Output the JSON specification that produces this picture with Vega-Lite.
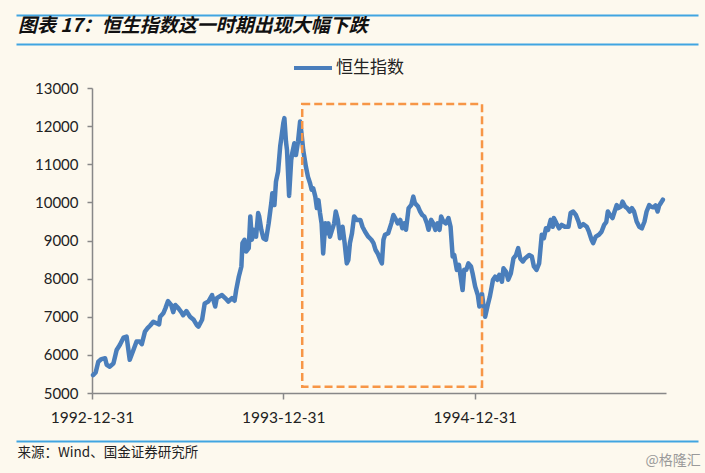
{
  "$schema": "https://vega.github.io/schema/vega-lite/v6.json",
  "width": 682,
  "height": 426,
  "autosize": "none",
  "padding": {"left": 16, "top": 15, "right": 7, "bottom": 32},
  "background": "#FDF9EE",
  "config": {"view": {"stroke": null}, "font": "Lato"},
  "title": {
    "text": "图表 17：恒生指数这一时期出现大幅下跌",
    "anchor": "start",
    "frame": "group",
    "font": "Noto Sans CJK SC",
    "fontSize": 19,
    "fontWeight": "bold",
    "fontStyle": "italic",
    "color": "#111111",
    "offset": 0,
    "dx": 2,
    "dy": 21
  },
  "datasets": {
    "hsi": [
      {"date": "1993-01-02", "hsi": 5470}, {"date": "1993-01-07", "hsi": 5540}, {"date": "1993-01-12", "hsi": 5820},
      {"date": "1993-01-18", "hsi": 5890}, {"date": "1993-01-25", "hsi": 5910}, {"date": "1993-01-28", "hsi": 5740},
      {"date": "1993-02-03", "hsi": 5690}, {"date": "1993-02-10", "hsi": 5780}, {"date": "1993-02-16", "hsi": 6130},
      {"date": "1993-02-22", "hsi": 6260}, {"date": "1993-03-01", "hsi": 6450}, {"date": "1993-03-07", "hsi": 6480},
      {"date": "1993-03-13", "hsi": 5870}, {"date": "1993-03-20", "hsi": 6130}, {"date": "1993-03-26", "hsi": 6350},
      {"date": "1993-04-01", "hsi": 6350}, {"date": "1993-04-05", "hsi": 6280}, {"date": "1993-04-11", "hsi": 6610},
      {"date": "1993-04-16", "hsi": 6700}, {"date": "1993-04-21", "hsi": 6770}, {"date": "1993-04-27", "hsi": 6870},
      {"date": "1993-05-03", "hsi": 6830}, {"date": "1993-05-08", "hsi": 6800}, {"date": "1993-05-10", "hsi": 7000},
      {"date": "1993-05-16", "hsi": 7090}, {"date": "1993-05-20", "hsi": 7220}, {"date": "1993-05-25", "hsi": 7410},
      {"date": "1993-05-31", "hsi": 7310}, {"date": "1993-06-04", "hsi": 7120}, {"date": "1993-06-08", "hsi": 7310},
      {"date": "1993-06-14", "hsi": 7220}, {"date": "1993-06-19", "hsi": 7130}, {"date": "1993-06-23", "hsi": 7040},
      {"date": "1993-06-29", "hsi": 7150}, {"date": "1993-07-06", "hsi": 7000}, {"date": "1993-07-13", "hsi": 6920},
      {"date": "1993-07-19", "hsi": 6780}, {"date": "1993-07-22", "hsi": 6740}, {"date": "1993-07-29", "hsi": 6920},
      {"date": "1993-08-03", "hsi": 7350}, {"date": "1993-08-10", "hsi": 7400}, {"date": "1993-08-17", "hsi": 7570},
      {"date": "1993-08-23", "hsi": 7270}, {"date": "1993-08-26", "hsi": 7490}, {"date": "1993-09-05", "hsi": 7570},
      {"date": "1993-09-11", "hsi": 7490}, {"date": "1993-09-17", "hsi": 7400}, {"date": "1993-09-24", "hsi": 7490},
      {"date": "1993-09-29", "hsi": 7420}, {"date": "1993-10-02", "hsi": 7700}, {"date": "1993-10-07", "hsi": 8050},
      {"date": "1993-10-12", "hsi": 8320}, {"date": "1993-10-14", "hsi": 8930}, {"date": "1993-10-18", "hsi": 9020},
      {"date": "1993-10-21", "hsi": 8710}, {"date": "1993-10-26", "hsi": 8800}, {"date": "1993-10-29", "hsi": 9630},
      {"date": "1993-11-01", "hsi": 9020}, {"date": "1993-11-04", "hsi": 9280}, {"date": "1993-11-09", "hsi": 9100},
      {"date": "1993-11-13", "hsi": 9720}, {"date": "1993-11-15", "hsi": 9630}, {"date": "1993-11-19", "hsi": 9280},
      {"date": "1993-11-23", "hsi": 9060}, {"date": "1993-11-28", "hsi": 9020}, {"date": "1993-12-03", "hsi": 9450},
      {"date": "1993-12-08", "hsi": 9980}, {"date": "1993-12-10", "hsi": 10240}, {"date": "1993-12-14", "hsi": 9930},
      {"date": "1993-12-17", "hsi": 10550}, {"date": "1993-12-21", "hsi": 10810}, {"date": "1993-12-25", "hsi": 11470},
      {"date": "1993-12-28", "hsi": 11770}, {"date": "1993-12-31", "hsi": 12080}, {"date": "1994-01-02", "hsi": 12210},
      {"date": "1994-01-05", "hsi": 11600}, {"date": "1994-01-07", "hsi": 11370}, {"date": "1994-01-11", "hsi": 10170},
      {"date": "1994-01-15", "hsi": 11110}, {"date": "1994-01-17", "hsi": 11290}, {"date": "1994-01-21", "hsi": 11550},
      {"date": "1994-01-24", "hsi": 11240}, {"date": "1994-01-28", "hsi": 11590}, {"date": "1994-02-01", "hsi": 12120},
      {"date": "1994-02-04", "hsi": 11770}, {"date": "1994-02-07", "hsi": 11370}, {"date": "1994-02-12", "hsi": 10940},
      {"date": "1994-02-16", "hsi": 10670}, {"date": "1994-02-20", "hsi": 10500}, {"date": "1994-02-23", "hsi": 10330},
      {"date": "1994-02-26", "hsi": 10370}, {"date": "1994-03-02", "hsi": 10150}, {"date": "1994-03-05", "hsi": 9850},
      {"date": "1994-03-08", "hsi": 10060}, {"date": "1994-03-11", "hsi": 9720}, {"date": "1994-03-14", "hsi": 9450},
      {"date": "1994-03-17", "hsi": 8660}, {"date": "1994-03-21", "hsi": 9450}, {"date": "1994-03-24", "hsi": 9190},
      {"date": "1994-03-27", "hsi": 9450}, {"date": "1994-03-30", "hsi": 9100}, {"date": "1994-04-03", "hsi": 9280},
      {"date": "1994-04-07", "hsi": 9450}, {"date": "1994-04-10", "hsi": 9760}, {"date": "1994-04-14", "hsi": 9540},
      {"date": "1994-04-18", "hsi": 9060}, {"date": "1994-04-23", "hsi": 9360}, {"date": "1994-04-27", "hsi": 8930},
      {"date": "1994-05-01", "hsi": 8400}, {"date": "1994-05-04", "hsi": 8490}, {"date": "1994-05-07", "hsi": 8930},
      {"date": "1994-05-11", "hsi": 9190}, {"date": "1994-05-15", "hsi": 9630}, {"date": "1994-05-20", "hsi": 9540},
      {"date": "1994-05-27", "hsi": 9540}, {"date": "1994-05-31", "hsi": 9360}, {"date": "1994-06-05", "hsi": 9230},
      {"date": "1994-06-11", "hsi": 9100}, {"date": "1994-06-17", "hsi": 9020}, {"date": "1994-06-21", "hsi": 8930},
      {"date": "1994-06-25", "hsi": 8750}, {"date": "1994-06-29", "hsi": 8660}, {"date": "1994-07-04", "hsi": 8490},
      {"date": "1994-07-07", "hsi": 8400}, {"date": "1994-07-10", "hsi": 9020}, {"date": "1994-07-13", "hsi": 9150},
      {"date": "1994-07-19", "hsi": 9190}, {"date": "1994-07-25", "hsi": 9450}, {"date": "1994-07-29", "hsi": 9670},
      {"date": "1994-08-03", "hsi": 9540}, {"date": "1994-08-06", "hsi": 9450}, {"date": "1994-08-11", "hsi": 9540},
      {"date": "1994-08-15", "hsi": 9320}, {"date": "1994-08-19", "hsi": 9450}, {"date": "1994-08-22", "hsi": 9280},
      {"date": "1994-08-27", "hsi": 9850}, {"date": "1994-09-01", "hsi": 9930}, {"date": "1994-09-05", "hsi": 10150},
      {"date": "1994-09-08", "hsi": 9980}, {"date": "1994-09-14", "hsi": 9890}, {"date": "1994-09-18", "hsi": 9760},
      {"date": "1994-09-22", "hsi": 9670}, {"date": "1994-09-26", "hsi": 9630}, {"date": "1994-10-01", "hsi": 9450},
      {"date": "1994-10-04", "hsi": 9280}, {"date": "1994-10-09", "hsi": 9540}, {"date": "1994-10-13", "hsi": 9450},
      {"date": "1994-10-17", "hsi": 9280}, {"date": "1994-10-21", "hsi": 9450}, {"date": "1994-10-25", "hsi": 9280},
      {"date": "1994-10-28", "hsi": 9630}, {"date": "1994-11-01", "hsi": 9500}, {"date": "1994-11-06", "hsi": 9450},
      {"date": "1994-11-11", "hsi": 9590}, {"date": "1994-11-15", "hsi": 9360}, {"date": "1994-11-19", "hsi": 8580},
      {"date": "1994-11-22", "hsi": 8620}, {"date": "1994-11-27", "hsi": 8230}, {"date": "1994-12-01", "hsi": 8360},
      {"date": "1994-12-05", "hsi": 7970}, {"date": "1994-12-08", "hsi": 7700}, {"date": "1994-12-11", "hsi": 8230},
      {"date": "1994-12-15", "hsi": 8230}, {"date": "1994-12-19", "hsi": 8400}, {"date": "1994-12-24", "hsi": 8320},
      {"date": "1994-12-27", "hsi": 8140}, {"date": "1995-01-01", "hsi": 7790}, {"date": "1995-01-06", "hsi": 7570},
      {"date": "1995-01-09", "hsi": 7270}, {"date": "1995-01-14", "hsi": 7600}, {"date": "1995-01-17", "hsi": 7270},
      {"date": "1995-01-20", "hsi": 7000}, {"date": "1995-01-25", "hsi": 7310}, {"date": "1995-01-29", "hsi": 7530},
      {"date": "1995-02-04", "hsi": 7970}, {"date": "1995-02-08", "hsi": 8050}, {"date": "1995-02-12", "hsi": 7970},
      {"date": "1995-02-16", "hsi": 8100}, {"date": "1995-02-21", "hsi": 7920}, {"date": "1995-02-24", "hsi": 8270},
      {"date": "1995-03-01", "hsi": 8180}, {"date": "1995-03-05", "hsi": 7970}, {"date": "1995-03-10", "hsi": 8140},
      {"date": "1995-03-15", "hsi": 8530}, {"date": "1995-03-20", "hsi": 8620}, {"date": "1995-03-24", "hsi": 8800},
      {"date": "1995-03-28", "hsi": 8530}, {"date": "1995-04-02", "hsi": 8450}, {"date": "1995-04-06", "hsi": 8530},
      {"date": "1995-04-14", "hsi": 8620}, {"date": "1995-04-19", "hsi": 8580}, {"date": "1995-04-23", "hsi": 8320},
      {"date": "1995-04-28", "hsi": 8230}, {"date": "1995-05-03", "hsi": 8400}, {"date": "1995-05-08", "hsi": 9150},
      {"date": "1995-05-12", "hsi": 9060}, {"date": "1995-05-16", "hsi": 9320}, {"date": "1995-05-20", "hsi": 9280},
      {"date": "1995-05-25", "hsi": 9540}, {"date": "1995-05-29", "hsi": 9360}, {"date": "1995-05-31", "hsi": 9590},
      {"date": "1995-06-05", "hsi": 9450}, {"date": "1995-06-10", "hsi": 9320}, {"date": "1995-06-15", "hsi": 9410},
      {"date": "1995-06-21", "hsi": 9360}, {"date": "1995-06-28", "hsi": 9360}, {"date": "1995-07-02", "hsi": 9720},
      {"date": "1995-07-07", "hsi": 9760}, {"date": "1995-07-12", "hsi": 9670}, {"date": "1995-07-17", "hsi": 9500},
      {"date": "1995-07-20", "hsi": 9360}, {"date": "1995-07-26", "hsi": 9430}, {"date": "1995-08-02", "hsi": 9360},
      {"date": "1995-08-06", "hsi": 9230}, {"date": "1995-08-11", "hsi": 9020}, {"date": "1995-08-14", "hsi": 8930},
      {"date": "1995-08-19", "hsi": 9100}, {"date": "1995-08-25", "hsi": 9150}, {"date": "1995-08-30", "hsi": 9230},
      {"date": "1995-09-04", "hsi": 9410}, {"date": "1995-09-08", "hsi": 9480}, {"date": "1995-09-11", "hsi": 9760},
      {"date": "1995-09-15", "hsi": 9670}, {"date": "1995-09-20", "hsi": 9590}, {"date": "1995-09-23", "hsi": 9720},
      {"date": "1995-09-28", "hsi": 9930}, {"date": "1995-10-01", "hsi": 9850}, {"date": "1995-10-06", "hsi": 9890},
      {"date": "1995-10-09", "hsi": 10020}, {"date": "1995-10-14", "hsi": 9890}, {"date": "1995-10-18", "hsi": 9850},
      {"date": "1995-10-23", "hsi": 9760}, {"date": "1995-10-27", "hsi": 9850}, {"date": "1995-10-31", "hsi": 9760},
      {"date": "1995-11-05", "hsi": 9500}, {"date": "1995-11-10", "hsi": 9360}, {"date": "1995-11-15", "hsi": 9320},
      {"date": "1995-11-20", "hsi": 9500}, {"date": "1995-11-24", "hsi": 9760}, {"date": "1995-11-29", "hsi": 9930},
      {"date": "1995-12-02", "hsi": 9890}, {"date": "1995-12-07", "hsi": 9870}, {"date": "1995-12-11", "hsi": 9920},
      {"date": "1995-12-15", "hsi": 9760}, {"date": "1995-12-18", "hsi": 9920}, {"date": "1995-12-21", "hsi": 9980},
      {"date": "1995-12-25", "hsi": 10070}
    ],
    "highlight": [
      {"start": "1994-02-05", "end": "1995-01-14", "high": 12580, "low": 5165}
    ]
  },
  "layer": [
    {
      "data": {"name": "hsi"},
      "mark": {"type": "line", "strokeWidth": 4.5, "strokeJoin": "round", "strokeCap": "round"},
      "encoding": {
        "x": {
          "field": "date",
          "type": "temporal",
          "scale": {
            "type": "utc",
            "domain": [{"year": 1992, "month": 12, "date": 31, "utc": true}, {"year": 1995, "month": 12, "date": 31, "utc": true}],
            "range": [76, 650]
          },
          "axis": {
            "orient": "bottom",
            "offset": -48,
            "values": [
              {"year": 1992, "month": 12, "date": 31, "utc": true},
              {"year": 1993, "month": 12, "date": 31, "utc": true},
              {"year": 1994, "month": 12, "date": 31, "utc": true}
            ],
            "format": "%Y-%m-%d",
            "labelFlush": false,
            "labelOverlap": false,
            "grid": false,
            "domainColor": "#888888",
            "domainWidth": 1.5,
            "tickColor": "#888888",
            "tickWidth": 1.5,
            "tickSize": 6,
            "labelFont": "Lato",
            "labelFontSize": 15.5,
            "labelColor": "#222222",
            "labelPadding": 11,
            "title": "来源：Wind、国金证券研究所",
            "titleX": 1,
            "titleY": 59,
            "titleAlign": "left",
            "titleBaseline": "middle",
            "titleFont": "Noto Sans CJK SC",
            "titleFontSize": 13.5,
            "titleFontWeight": "normal",
            "titleColor": "#222222"
          }
        },
        "y": {
          "field": "hsi",
          "type": "quantitative",
          "scale": {"domain": [3741.3, 14914.7], "nice": false, "zero": false},
          "axis": {
            "orient": "left",
            "offset": -76,
            "values": [5000, 6000, 7000, 8000, 9000, 10000, 11000, 12000, 13000],
            "format": "d",
            "domain": false,
            "grid": false,
            "tickColor": "#888888",
            "tickWidth": 1.5,
            "tickSize": 5,
            "labelFont": "Lato",
            "labelFontSize": 15,
            "labelColor": "#222222",
            "labelPadding": 9,
            "title": null
          }
        },
        "color": {
          "datum": "恒生指数",
          "type": "nominal",
          "scale": {"range": ["#4A7EBB"]},
          "legend": {
            "orient": "none",
            "legendX": 276,
            "legendY": 32,
            "title": null,
            "padding": 0,
            "symbolType": "stroke",
            "symbolSize": 1444,
            "symbolStrokeWidth": 4,
            "labelFont": "Noto Sans CJK SC",
            "labelFontSize": 17,
            "labelColor": "#222222",
            "labelOffset": 2
          }
        }
      }
    },
    {
      "data": {"name": "highlight"},
      "mark": {"type": "rect", "filled": false, "stroke": "#F79646", "strokeWidth": 2.5, "strokeDash": [8, 4]},
      "encoding": {
        "x": {
          "field": "start",
          "type": "temporal",
          "scale": {
            "type": "utc",
            "domain": [{"year": 1992, "month": 8, "date": 8, "utc": true}, {"year": 1996, "month": 3, "date": 1, "utc": true}]
          },
          "axis": {
            "orient": "top",
            "offset": -73,
            "values": [{"year": 1992, "month": 12, "date": 31, "utc": true}],
            "domain": false,
            "labels": false,
            "grid": false,
            "tickSize": -305,
            "tickColor": "#888888",
            "tickWidth": 1.5,
            "title": "@格隆汇",
            "titleX": 629,
            "titleY": 372,
            "titleAlign": "left",
            "titleBaseline": "middle",
            "titleFont": "Noto Sans CJK SC",
            "titleFontSize": 14,
            "titleFontWeight": "normal",
            "titleColor": "#9A9A9A"
          }
        },
        "x2": {"field": "end"},
        "y": {
          "field": "high",
          "type": "quantitative",
          "axis": {
            "orient": "right",
            "values": [3741.3, 14154, 14914.7],
            "grid": true,
            "gridColor": "#41A5E1",
            "gridWidth": 2,
            "domain": false,
            "ticks": false,
            "labels": false,
            "title": null
          }
        },
        "y2": {"field": "low"}
      }
    }
  ],
  "resolve": {
    "scale": {"x": "independent"},
    "axis": {"x": "independent", "y": "independent"}
  }
}
